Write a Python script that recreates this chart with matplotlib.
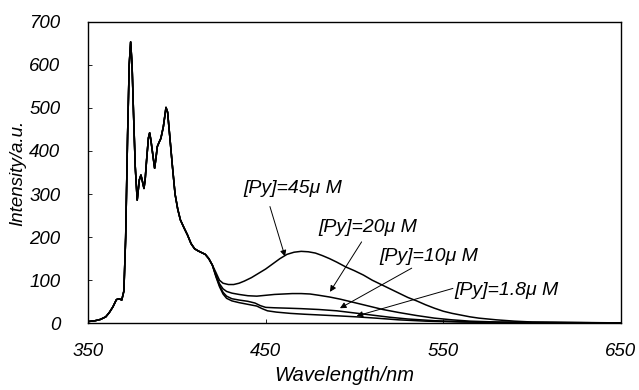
import matplotlib
matplotlib.use("Agg")
import matplotlib.pyplot as plt

plt.rcParams['font.family'] = ['Liberation Sans', 'DejaVu Sans']
plt.rcParams['font.style'] = 'italic'

# shared part of the spectrum (all four curves overlap below ~420 nm)
wl_common = [350, 354, 357, 360, 362, 364, 366, 367.5, 369, 370.2, 371.2, 372.3, 373.2, 374,
             374.8, 375.6, 376.6, 377.7, 378.9, 379.8, 380.6, 381.5, 382.2, 383, 384, 384.7,
             385.4, 386.2, 387.5, 388.3, 389, 390, 391, 392.4, 393.9, 394.8, 396, 397.5, 399,
             400.5, 402, 404, 406, 408, 410, 412, 414, 416, 418, 420]
i_common = [4, 6, 9, 15, 25, 38, 55, 57, 54, 75, 200, 440, 600, 653,
            600, 490, 363, 286, 333, 344, 330, 313, 335, 380, 430, 442,
            425, 400, 360, 385, 410, 420, 429, 456, 501, 490, 435, 365, 300,
            265, 240, 222, 205, 185, 173, 168, 164, 160, 150, 135]

# tails of each curve
wl_45 = [422, 424, 426, 429, 432, 435, 438, 442, 446, 450, 454, 458, 462, 466, 470, 474, 478,
         482, 486, 490, 495, 500, 505, 510, 515, 520, 525, 530, 535, 540, 545, 550, 555, 560,
         565, 570, 575, 580, 590, 600, 620, 650]
i_45 = [118, 100, 93, 90, 90, 93, 98, 106, 116, 126, 138, 150, 160, 165, 167, 166, 163,
        157, 150, 142, 131, 122, 112, 100, 90, 80, 70, 60, 52, 43, 35, 28, 23, 19,
        15, 12, 10, 8, 5, 3, 2, 1]

wl_20 = [422, 424, 426, 428, 431, 435, 440, 445, 450, 455, 460, 465, 470, 475, 480, 486, 492,
         500, 508, 516, 525, 535, 545, 555, 565, 580, 600, 650]
i_20 = [112, 92, 80, 74, 70, 67, 64, 63, 65, 67, 68, 69, 69, 68, 65, 61, 56,
        48, 40, 32, 25, 18, 12, 8, 5, 3, 2, 1]

wl_10 = [422, 424, 426, 428, 431, 435, 440, 444, 447, 450, 455, 463, 470, 480, 490, 500, 510,
         520, 530, 545, 560, 580, 650]
i_10 = [110, 88, 72, 63, 57, 54, 51, 47, 41, 37, 36, 35, 34, 32, 29, 24, 19,
        14, 10, 6, 4, 2, 1]

wl_18 = [422, 424, 426, 428, 431, 435, 440, 445, 448, 451, 456, 464, 472, 482, 492, 501, 512,
         525, 540, 560, 580, 650]
i_18 = [108, 85, 68, 58, 52, 48, 44, 40, 34, 29, 26, 23, 21, 19, 17, 15, 12,
        8, 5, 3, 2, 1]

labels = ['[Py]=45\u03bc M', '[Py]=20\u03bc M', '[Py]=10\u03bc M', '[Py]=1.8\u03bc M']
label_xy = [(465.4, 314), (507.3, 223), (542, 155), (585.8, 77)]
arrow_from = [(452.4, 271), (504, 189), (532.2, 128), (555.4, 81)]
arrow_to = [(460.9, 155), (486.2, 73), (491.8, 35), (501.2, 17)]

fig = plt.figure(figsize=(6.39, 3.90), dpi=100)
ax = fig.add_axes([88 / 639, 1 - 323.3 / 390, (621 - 88) / 639, (323.3 - 21.7) / 390])

for wl, inten in [(wl_45, i_45), (wl_20, i_20), (wl_10, i_10), (wl_18, i_18)]:
    ax.plot(wl_common + wl, i_common + inten, color='black', lw=1.1)

for lab, (tx, ty), (fx, fy), (ex, ey) in zip(labels, label_xy, arrow_from, arrow_to):
    ax.text(tx, ty, lab, fontsize=14, ha='center', va='center')
    ax.annotate('', xy=(ex, ey), xytext=(fx, fy),
                arrowprops=dict(arrowstyle='-|>', color='black', lw=0.7,
                                mutation_scale=9, shrinkA=0, shrinkB=0))

ax.set_xlim(350, 650)
ax.set_ylim(0, 700)
ax.set_xticks([350, 450, 550, 650])
ax.set_yticks(range(0, 701, 100))
ax.tick_params(direction='in', length=3, width=0.6, labelsize=13.5)
ax.tick_params(axis='y', pad=20)
ax.tick_params(axis='x', pad=14)
for s in ax.spines.values():
    s.set_linewidth(1.0)

ax.set_xlabel('Wavelength/nm', fontsize=14.5)
ax.set_ylabel('Intensity/a.u.', fontsize=13.5)
ax.xaxis.set_label_coords(0.48, -0.142)
ax.yaxis.set_label_coords(-0.115, 0.5)

fig.savefig('out.png', dpi=100)
